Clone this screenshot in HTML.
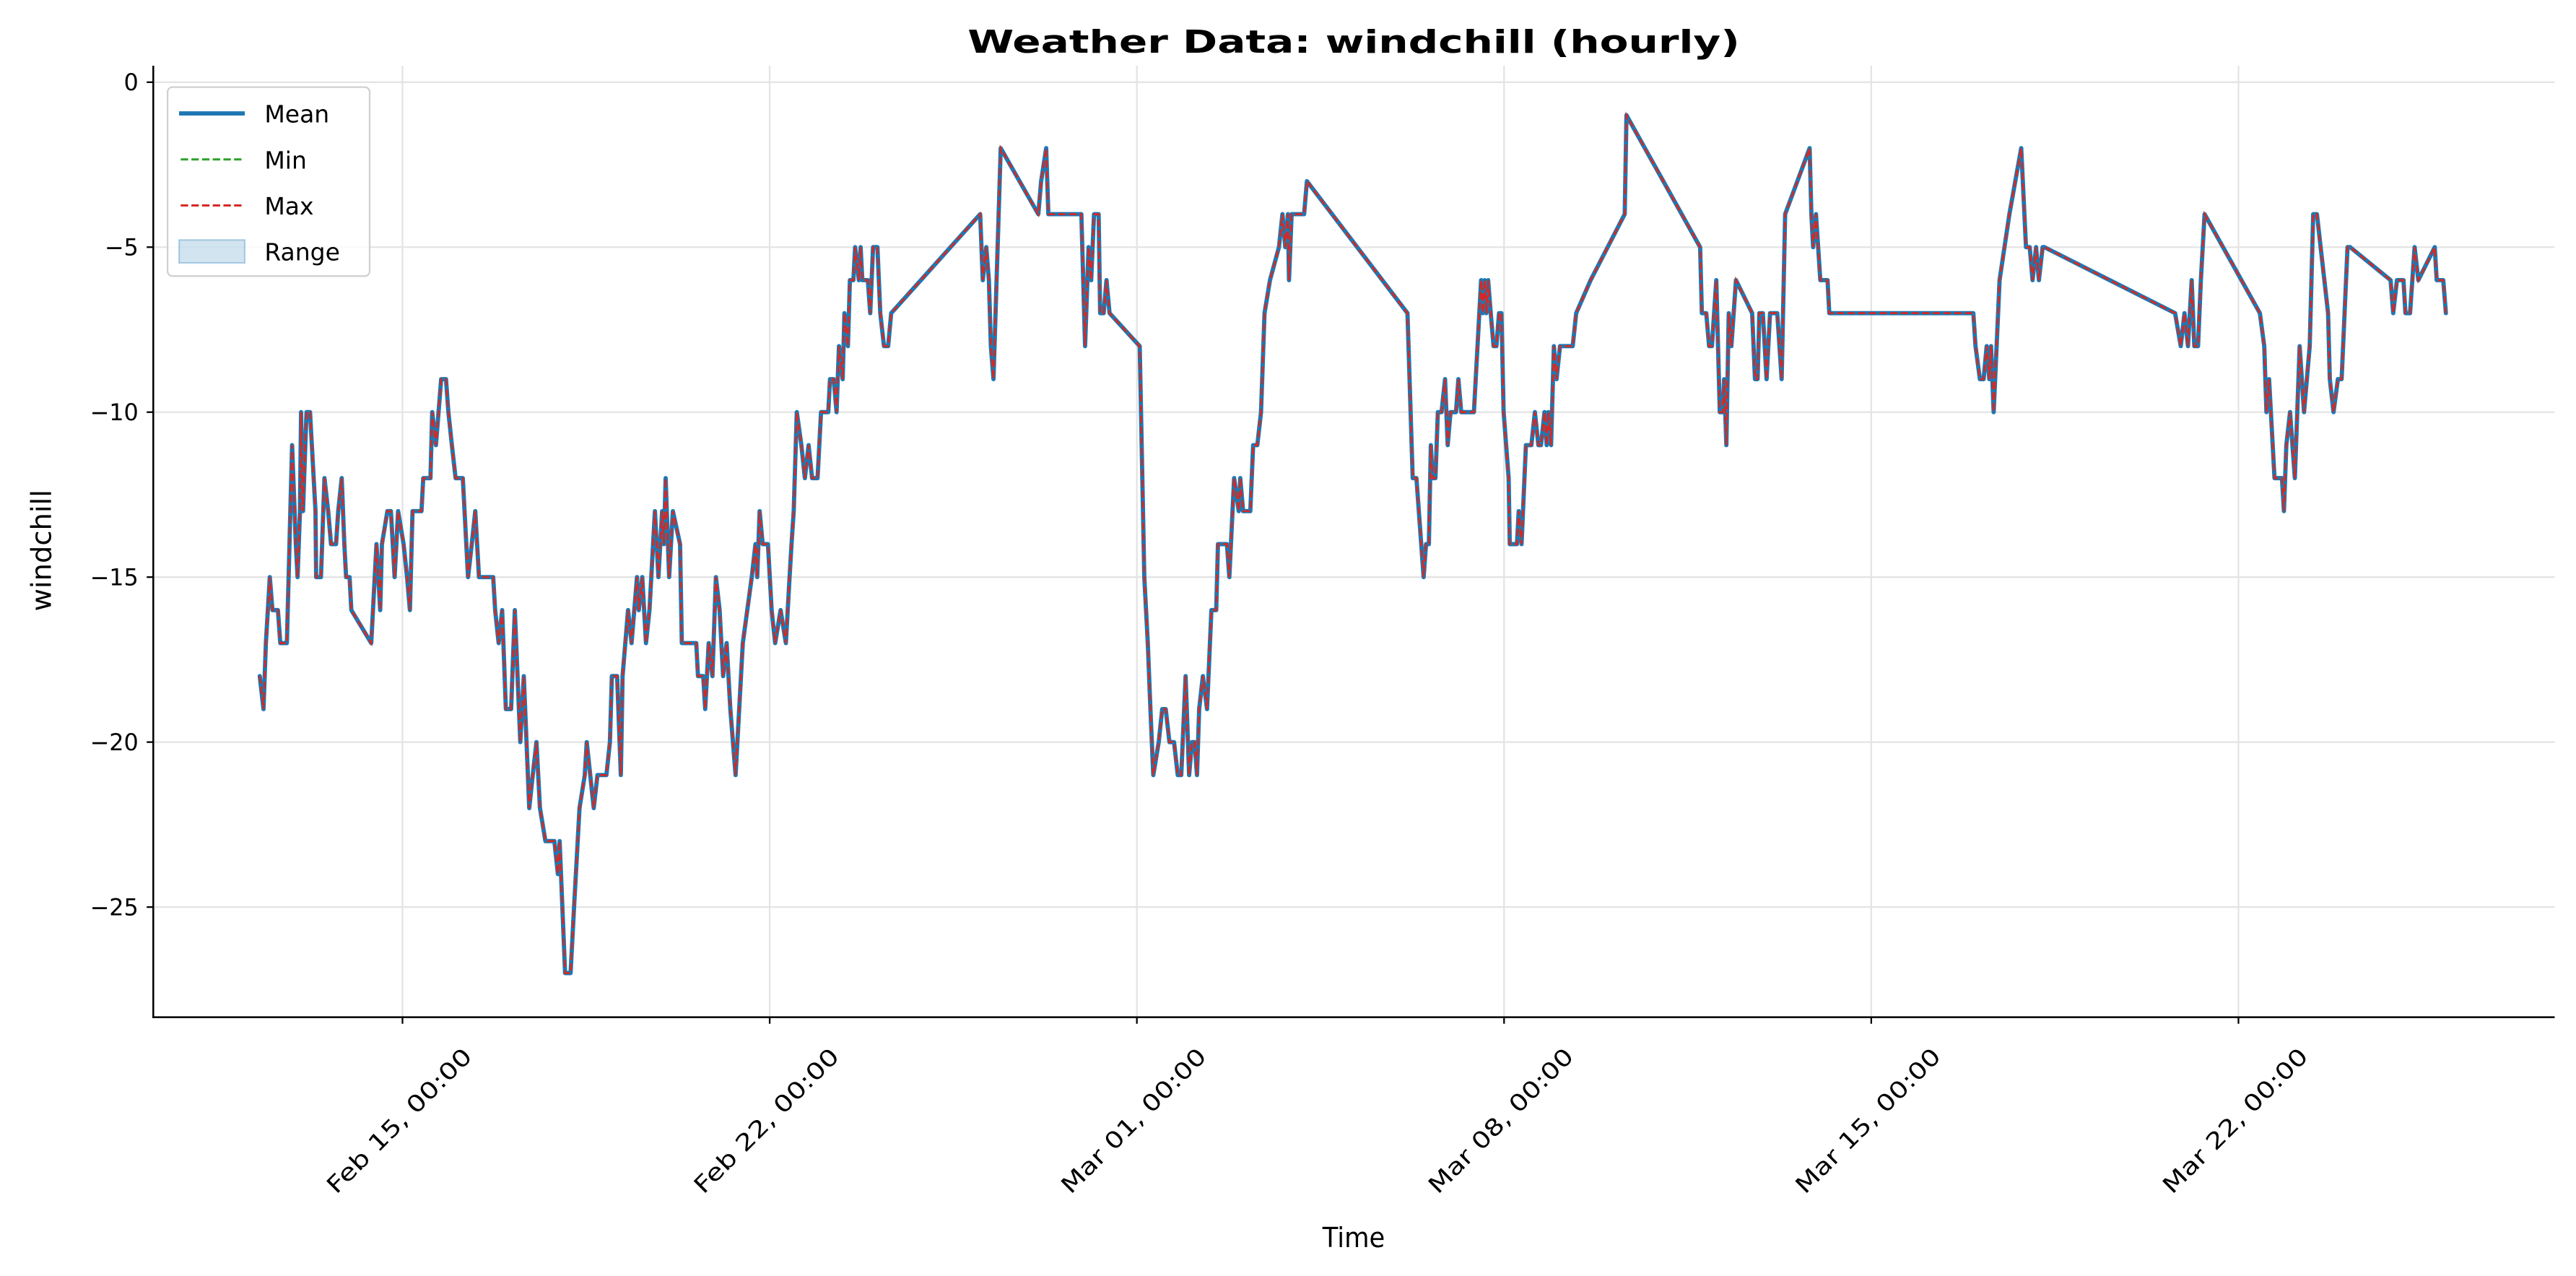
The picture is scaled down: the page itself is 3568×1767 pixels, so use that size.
<!DOCTYPE html>
<html><head><meta charset="utf-8"><style>
html,body{margin:0;padding:0;background:#fff;}
svg{display:block;}
text{font-family:"DejaVu Sans","Liberation Sans",sans-serif;fill:#000;}
</style></head><body>
<svg id="chart" width="3568" height="1767" viewBox="0 0 1568 776.5" xmlns="http://www.w3.org/2000/svg">
<rect x="0" y="0" width="1568" height="776.5" fill="#fff"/>
<g id="grid"></g>
<g id="series"></g>
<g id="axes"></g>
<text x="824" y="32" text-anchor="middle" font-size="19" font-weight="bold" textLength="470" lengthAdjust="spacingAndGlyphs">Weather Data: windchill (hourly)</text>
<text x="824" y="759" text-anchor="middle" font-size="17" textLength="38" lengthAdjust="spacingAndGlyphs">Time</text>
<text transform="translate(31,335) rotate(-90)" text-anchor="middle" font-size="17" textLength="74" lengthAdjust="spacingAndGlyphs">windchill</text>
<g>
<rect x="102" y="53" width="123" height="115" rx="3" fill="#fff" fill-opacity="0.8" stroke="#d0d0d0" stroke-width="1"/>
<g><line x1="109" y1="69" x2="149" y2="69" stroke="#1f77b4" stroke-width="2.6"/><text x="161" y="74.5" font-size="14.5">Mean</text></g>
<g><line x1="110" y1="97" x2="149" y2="97" stroke="#2ca02c" stroke-width="1.3" stroke-dasharray="4.5,2"/><text x="161" y="102.5" font-size="14.5">Min</text></g>
<g><line x1="110" y1="125" x2="149" y2="125" stroke="#d62728" stroke-width="1.3" stroke-dasharray="4.5,2"/><text x="161" y="130.5" font-size="14.5">Max</text></g>
<g><rect x="109" y="146" width="40" height="14" fill="rgba(31,119,180,0.2)" stroke="rgba(31,119,180,0.3)" stroke-width="1"/><text x="161" y="158.5" font-size="14.5">Range</text></g>
</g>
</svg>
<script>
// hours since Feb 12 00:00, split into segments (hours / values aligned row by row)
const hoursA = [6.7,8.4,9.5,11.3,12.5,15,16.1,19.1,19.9,21.5,
23.2,24,25.1,25.6,26.5,27,28.1,29.7,32.2,32.5,
34.7,36.3,38,39.3,41.6,42.6,44.2,45.4,46.2,47.8,
48.6,57.7,58.5,60.1,61.8,62.6,65.1,66.7,68.4,70,
72.5,74.1,75.4,76.6,80.7,81.5,84.8,85.6,87.3,89.7,
91.9,93,94.6,96.3,99.6,102,103.7,105.3,107,113.5,
114.4,116,117.6,119.3,121.7,123.4,125.9,127.5,130,131.6,
133.3,134.9,137.4,141.5,143.1,143.9,146.4,148.9,150.5,153,
155.4,156.3,157.9,159.5,161.2,165.3,166.9,167.8,170.2,171.9,
172.7,175.2,176.8,179.3,180.1,181.7,183.4,185,187.5,189.1,
190.8,191.6,192.4,194,195.7,199,199.8,201.4,206.4,207.2,
209.6,210.5,212.1,213.8,215.4,217.1,218.7,220.3,222,224.4,
227.7,231.8,233.5,234.3,235.4,236.8,239.2,240.9,242.5,245,
247.4,249.1,250,251,252.4];
const valuesA = [-18,-19,-17,-15,-16,-16,-17,-17,-15,-11,
-14,-15,-13,-10,-13,-12,-10,-10,-13,-15,
-15,-12,-13,-14,-14,-13,-12,-14,-15,-15,
-16,-17,-16,-14,-16,-14,-13,-13,-15,-13,
-14,-15,-16,-13,-13,-12,-12,-10,-11,-9,
-9,-10,-11,-12,-12,-15,-14,-13,-15,-15,
-16,-17,-16,-19,-19,-16,-20,-18,-22,-21,
-20,-22,-23,-23,-24,-23,-27,-27,-25,-22,
-21,-20,-21,-22,-21,-21,-20,-18,-18,-21,
-18,-16,-17,-15,-16,-15,-17,-16,-13,-15,
-13,-14,-12,-15,-13,-14,-17,-17,-17,-18,
-18,-19,-17,-18,-15,-16,-18,-17,-19,-21,
-17,-15,-14,-15,-13,-14,-14,-16,-17,-16,
-17,-15,-14,-13,-10];
const hoursB = [254.5,256.1,257.8,259.4,261.9,263.5,266.8,267.6,269.3,270.6,
271.7,273.4,274.2,275.8,276.7,278.3,279.1,280.8,281.6,282.4,
284.9,286,287.3,289.3,290.6,292.3,294.2,295.6,336.3,337.5,
339.1,340.3,341.2,342.4,345.7,362.9,364.2,366.5,367.5,382.6,
384.3,385.9,387.1,388.4,390.5,391.2,392.8,394.1,395.5,409.3,
411.4,413,414.2,415.5,418,419.6,421.2,422.9,425,426.7,
428.3,430.3,431.9,433.2,434.4,435.5,436.5,438.2,440.1,442.1,
444.3,445.1,449.2,450.3,452.5,454.6,455.3,456.6,459.9,461.2,
463.1,464.8,466.4,468.9,473,474.6,475.9,477.1,477.6,478.8,
484.5,485.8];
const valuesB = [-11,-12,-11,-12,-12,-10,-10,-9,-9,-10,
-8,-9,-7,-8,-6,-6,-5,-6,-5,-6,
-6,-7,-5,-5,-7,-8,-8,-7,-4,-6,
-5,-6,-8,-9,-2,-4,-3,-2,-4,-4,
-8,-5,-6,-4,-4,-7,-7,-6,-7,-8,
-15,-17,-19,-21,-20,-19,-19,-20,-20,-21,
-21,-18,-21,-20,-20,-21,-19,-18,-19,-16,
-16,-14,-14,-15,-12,-13,-12,-13,-13,-11,
-11,-10,-7,-6,-5,-4,-5,-4,-6,-4,
-4,-3];
const hoursC = [531.8,534.2,535.9,539.2,540.3,541.6,542.5,543.3,544.6,545.7,
547.4,549,550.2,551.5,554,555.1,556.4,562.2,565.5,566.3,
567.1,567.9,568.7,569.9,571.2,572.5,573.7,574.8,575.8,578.1,
578.6,581.9,582.7,584,586,588.5,590.1,591.7,592.9,594.5,
595.5,596.2,597.5,598.8,600,601.6,607.4,609,615.6,631.2,
632,665.7,666.5,668.5,669.8,671.1,673.1,674.7,676,676.7,
677.7,678.8,680,682.1,689.5,690.8,692,692.8,694.4,696.1,
697.7,701,703,704.6,715.8,716.6,717.4,718.7,720.7,724,
724.8];
const valuesC = [-7,-12,-12,-15,-14,-14,-11,-12,-12,-10,
-10,-9,-11,-10,-10,-9,-10,-10,-6,-7,
-6,-7,-6,-7,-8,-8,-7,-7,-10,-12,
-14,-14,-13,-14,-11,-11,-10,-11,-11,-10,
-11,-10,-11,-8,-9,-8,-8,-7,-6,-4,
-1,-5,-7,-7,-8,-8,-6,-10,-10,-9,
-11,-7,-8,-6,-7,-9,-9,-7,-7,-9,
-7,-7,-9,-4,-2,-4,-5,-4,-6,-6,
-7];
const hoursD = [790.7,791.7,793.7,795.4,796.8,798,798.8,800,802.7,807.2,
812.6,814.8,816.5,817.8,819.4,820.7,822.4,823.2,883,885.6,
887.3,888.9,890.6,891.8,893.5,894.8,896.5,921.8,923.8,924.8,
926,928.5,931.9,932.8,933.9,935.6,937.8,940,942,944.6,
946.2,947.9,953,953.8,955.5,957.5,959.2,961.9,963.1,981.6,
982.8,984.5,987.5,988.4,990.5,992.6,994.3,1001.8,1002.7,1005.7,
1006.9];
const valuesD = [-7,-8,-9,-9,-8,-9,-8,-10,-6,-4,
-2,-5,-5,-6,-5,-6,-5,-5,-7,-8,
-7,-8,-6,-8,-8,-6,-4,-7,-8,-10,
-9,-12,-12,-13,-11,-10,-12,-8,-10,-8,
-4,-4,-7,-9,-10,-9,-9,-5,-5,-6,
-7,-6,-6,-7,-7,-5,-6,-5,-6,-6,
-7];
const hours = hoursA.concat(hoursB, hoursC, hoursD);
const meanValues = valuesA.concat(valuesB, valuesC, valuesD);
const minValues = meanValues.slice();
const maxValues = meanValues.slice();
const yTicks = [0,-5,-10,-15,-20,-25];
const xTickHours = [72,240,408,576,744,912];
const xTickLabels = ["Feb 15, 00:00","Feb 22, 00:00","Mar 01, 00:00","Mar 08, 00:00","Mar 15, 00:00","Mar 22, 00:00"];

const NS = "http://www.w3.org/2000/svg";
const L = 93.3, R = 1555, T = 40, B = 619;
function xs(h){ return 149.2 + h/24*31.93; }
function ys(v){ return 50 + (-v)*20.08; }
function mk(tag, attrs, parent){ const e=document.createElementNS(NS,tag); for(const k in attrs) e.setAttribute(k,attrs[k]); parent.appendChild(e); return e; }

const grid = document.getElementById('grid');
const axes = document.getElementById('axes');
const series = document.getElementById('series');

yTicks.forEach(function(v){
  const y = ys(v);
  const g = mk('line',{x1:L,x2:R,y1:y,y2:y,stroke:'#e4e4e4','stroke-width':1},grid);
  
  
  const t = mk('line',{x1:L-4,x2:L,y1:y,y2:y,stroke:'#000','stroke-width':1},axes);
  
  
  const lb = mk('text',{x:L-9,y:y+5,'text-anchor':'end','font-size':14},axes);
  lb.textContent = v===0 ? '0' : '\u2212'+Math.abs(v);
  
  
});
xTickHours.forEach(function(h,i){
  const x = xs(h);
  const g = mk('line',{x1:x,x2:x,y1:T,y2:B,stroke:'#e4e4e4','stroke-width':1},grid);
  
  
  const t = mk('line',{x1:x,x2:x,y1:B,y2:B+4,stroke:'#000','stroke-width':1},axes);
  
  
  const lb = mk('text',{transform:'translate('+(x-2)+',682) rotate(-45)','text-anchor':'middle','dominant-baseline':'central','font-size':14,textLength:118,lengthAdjust:'spacingAndGlyphs'},axes);
  lb.textContent = xTickLabels[i];
  
  
});
const sl = mk('line',{x1:L,x2:L,y1:T,y2:B+0.5,stroke:'#000','stroke-width':1.1},axes);


const sb = mk('line',{x1:L-0.5,x2:R,y1:B,y2:B,stroke:'#000','stroke-width':1.1},axes);



function pts(vals){ return hours.map(function(h,i){ return xs(h).toFixed(2)+','+ys(vals[i]).toFixed(2); }); }
const rangePts = pts(maxValues).concat(pts(minValues).reverse());
const rg = mk('polygon',{points:rangePts.join(' '),fill:'rgba(31,119,180,0.2)',stroke:'none'},series);


const ml = mk('polyline',{points:pts(meanValues).join(' '),fill:'none',stroke:'#1f77b4','stroke-width':2.6,'stroke-linejoin':'round','stroke-linecap':'round'},series);


const mn = mk('polyline',{points:pts(minValues).join(' '),fill:'none',stroke:'#2ca02c','stroke-width':1.2,'stroke-dasharray':'4.5,2'},series);


const mx = mk('polyline',{points:pts(maxValues).join(' '),fill:'none',stroke:'#d62728','stroke-width':1.2,'stroke-dasharray':'4.5,2'},series);


</script>
</body></html>
